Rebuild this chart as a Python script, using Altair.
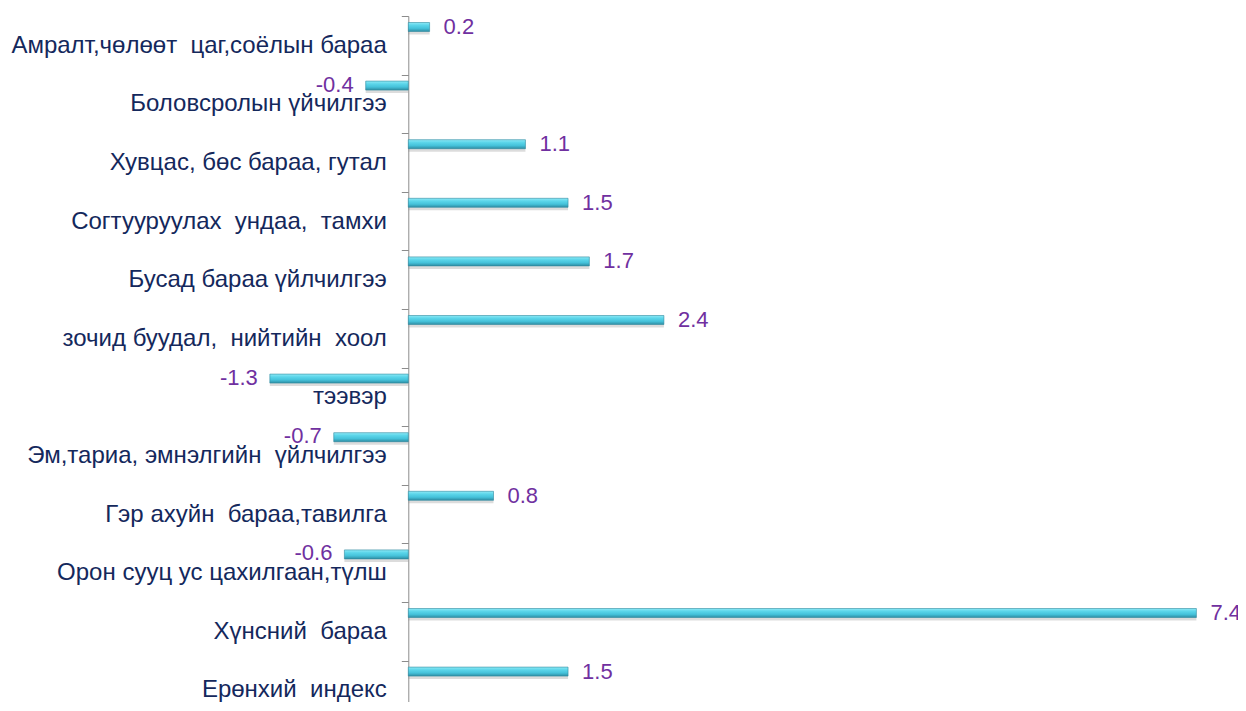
import altair as alt
import pandas as pd

NB = "\u00a0"
categories = [
    "Амралт,чөлөөт" + NB + " цаг,соёлын бараа",
    "Боловсролын үйчилгээ",
    "Хувцас, бөс бараа, гутал",
    "Согтууруулах" + NB + " ундаа," + NB + " тамхи",
    "Бусад бараа үйлчилгээ",
    "зочид буудал," + NB + " нийтийн" + NB + " хоол",
    "тээвэр",
    "Эм,тариа, эмнэлгийн" + NB + " үйлчилгээ",
    "Гэр ахуйн" + NB + " бараа,тавилга",
    "Орон сууц ус цахилгаан,түлш",
    "Хүнсний" + NB + " бараа",
    "Ерөнхий" + NB + " индекс",
]
values = [0.2, -0.4, 1.1, 1.5, 1.7, 2.4, -1.3, -0.7, 0.8, -0.6, 7.4, 1.5]

df = pd.DataFrame({"category": categories, "value": values})

PX_PER_UNIT = 106.5
ZERO_PX = 400.3
W = 1230
H = 686
BAND = 58.6
YRANGE = BAND * len(categories)
xmin = -ZERO_PX / PX_PER_UNIT
xmax = (W - ZERO_PX) / PX_PER_UNIT

xscale = alt.Scale(domain=[xmin, xmax], nice=False, zero=False)
yscale = alt.Scale(domain=categories, paddingInner=0, paddingOuter=0,
                   range=[0, YRANGE])

base = alt.Chart(df).encode(
    y=alt.Y("category:N", sort=categories, scale=yscale,
            axis=alt.Axis(title=None, offset=-ZERO_PX, tickBand="extent",
                          domainColor="#8C8C8C", tickColor="#8C8C8C", tickSize=7,
                          labelFontSize=24, labelFont="Liberation Sans",
                          labelColor="#14285C", labelPadding=15, labelLimit=600,
                          labelAlign="right", grid=False)),
)

gradient = alt.Gradient(
    gradient="linear", x1=0, y1=0, x2=0, y2=1,
    stops=[alt.GradientStop(offset=0, color="#8FE9F6"),
           alt.GradientStop(offset=0.3, color="#5CD6EA"),
           alt.GradientStop(offset=0.65, color="#45C2DA"),
           alt.GradientStop(offset=1, color="#2F8DA3")],
)

Y_OFF = -18.3

shadow = base.mark_bar(height=5, yOffset=Y_OFF + 5, color="#8A8A8A", opacity=0.3).encode(
    x=alt.X("value:Q", scale=xscale, axis=None), x2=alt.datum(0)
)

bars = base.mark_bar(height=9, yOffset=Y_OFF, fill=gradient, stroke="#2E8AA0",
                     strokeWidth=0.6).encode(
    x=alt.X("value:Q", scale=xscale, axis=None), x2=alt.datum(0)
)

pos_text = base.transform_filter("datum.value >= 0").transform_calculate(
    lbl="'' + datum.value"
).mark_text(align="left", baseline="middle", dx=14, yOffset=Y_OFF,
            fontSize=22, font="Liberation Sans", color="#7030A0").encode(
    x=alt.X("value:Q", scale=xscale, axis=None), text="lbl:N"
)

neg_text = base.transform_filter("datum.value < 0").transform_calculate(
    lbl="'' + datum.value"
).mark_text(align="right", baseline="middle", dx=-12, dy=-1, yOffset=Y_OFF,
            fontSize=22, font="Liberation Sans", color="#7030A0").encode(
    x=alt.X("value:Q", scale=xscale, axis=None), text="lbl:N"
)

chart = alt.layer(shadow, bars, pos_text, neg_text).properties(
    width=W, height=H,
    autosize=alt.AutoSizeParams(type="none"),
    padding={"left": 0, "top": 8, "right": 0, "bottom": 0},
    background="white",
).configure_view(strokeWidth=0, stroke="transparent")

chart.save("out.html", embed_options={"renderer": "svg", "actions": False})
